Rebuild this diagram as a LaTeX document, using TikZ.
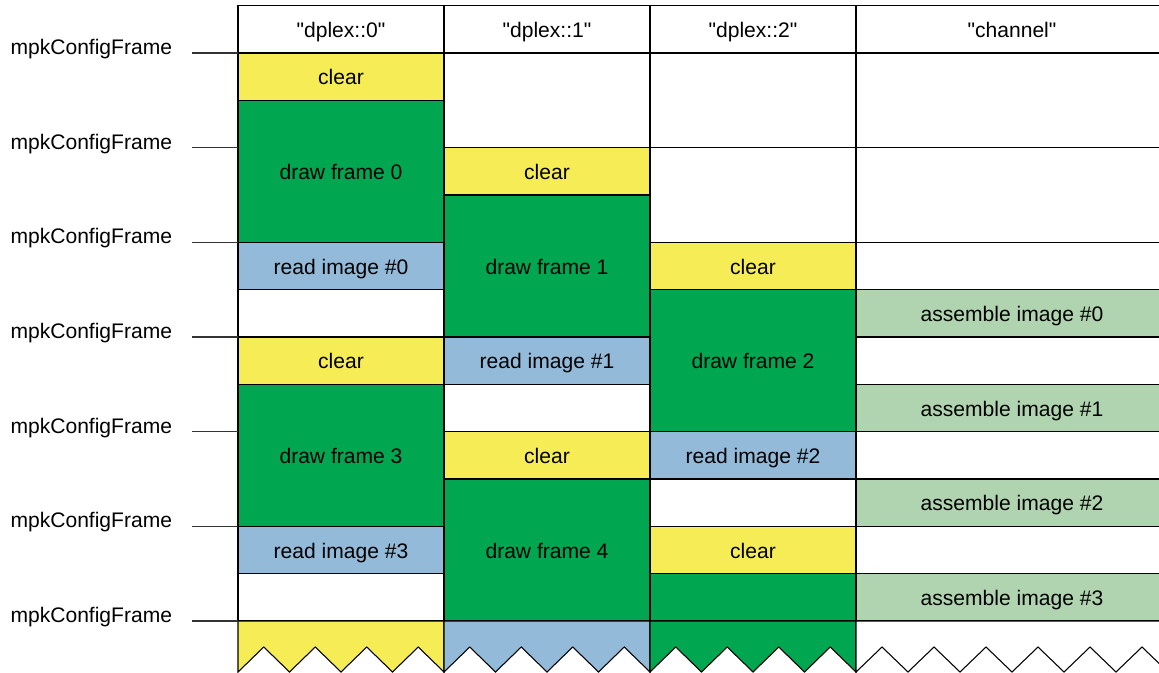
\documentclass[tikz,border=0pt]{standalone}
\usepackage{fontspec}
\setmainfont{Liberation Sans}
\usepackage{xcolor}
\definecolor{clearcol}{HTML}{F6EC55}
\definecolor{drawcol}{HTML}{00A650}
\definecolor{readcol}{HTML}{93BAD9}
\definecolor{asmcol}{HTML}{B0D4AF}
\usetikzlibrary{positioning}

\begin{document}
\begin{tikzpicture}[x=0.75pt,y=-0.75pt,node distance=0pt,line width=0.8pt,
	every node/.style={font=\fontsize{15.8}{19}\selectfont},
	cell/.style={draw,inner sep=0,outer sep=0,minimum width=154.5pt,minimum height=#1*35.5pt,
		text height=12pt,text depth=0pt},
	cell/.default=1,
	wide/.style={minimum width=234pt},
	idle/.style={cell=#1,fill=white},
	idle/.default=1,
	clr/.style={cell,fill=clearcol},
	drw/.style={cell=#1,fill=drawcol},
	drw/.default=3,
	rd/.style={cell,fill=readcol},
	asm/.style={cell,wide,fill=asmcol}]
	\clip (0,0) rectangle (1159,673);
	% headers
	\node[cell,anchor=north west] (h0) at (238,5.67) {\textquotedbl dplex::0\textquotedbl};
	\node[cell,right=of h0] (h1) {\textquotedbl dplex::1\textquotedbl};
	\node[cell,right=of h1] (h2) {\textquotedbl dplex::2\textquotedbl};
	\node[cell,wide,right=of h2] (h3) {\textquotedbl channel\textquotedbl};
	% dplex::0
	\node[clr,below=of h0] (c0a) {clear};
	\node[drw,below=of c0a] (c0b) {draw frame 0};
	\node[rd,below=of c0b] (c0c) {read image \#0};
	\node[idle,below=of c0c] (c0d) {};
	\node[clr,below=of c0d] (c0e) {clear};
	\node[drw,below=of c0e] (c0f) {draw frame 3};
	\node[rd,below=of c0f] (c0g) {read image \#3};
	\node[idle,below=of c0g] (c0h) {};
	% dplex::1
	\node[idle=2,below=of h1] (c1a) {};
	\node[clr,below=of c1a] (c1b) {clear};
	\node[drw,below=of c1b] (c1c) {draw frame 1};
	\node[rd,below=of c1c] (c1d) {read image \#1};
	\node[idle,below=of c1d] (c1e) {};
	\node[clr,below=of c1e] (c1f) {clear};
	\node[drw,below=of c1f] (c1g) {draw frame 4};
	% dplex::2
	\node[idle=2,below=of h2] (c2a) {};
	\node[idle=2,below=of c2a] (c2b) {};
	\node[clr,below=of c2b] (c2c) {clear};
	\node[drw,below=of c2c] (c2d) {draw frame 2};
	\node[rd,below=of c2d] (c2e) {read image \#2};
	\node[idle,below=of c2e] (c2f) {};
	\node[clr,below=of c2f] (c2g) {clear};
	\node[drw=1,below=of c2g] (c2h) {};
	% channel
	\node[idle=2,wide,below=of h3] (c3a) {};
	\node[idle=2,wide,below=of c3a] (c3b) {};
	\node[idle,wide,below=of c3b] (c3c) {};
	\node[asm,below=of c3c] (c3d) {assemble image \#0};
	\node[idle,wide,below=of c3d] (c3e) {};
	\node[asm,below=of c3e] (c3f) {assemble image \#1};
	\node[idle,wide,below=of c3f] (c3g) {};
	\node[asm,below=of c3g] (c3h) {assemble image \#2};
	\node[idle,wide,below=of c3h] (c3i) {};
	\node[asm,below=of c3i] (c3j) {assemble image \#3};
	% torn off bottom
	\foreach \c/\col/\n/\h in {c0h/clearcol/4/25.75,c1g/readcol/4/25.75,c2h/drawcol/4/25.75,c3j/white/6/26}
		\filldraw[fill=\col] (\c.south west) -- ++(0,51)
			\foreach \k in {1,...,\n} { -- ++(\h,-25) -- ++(\h,25) }
			-- (\c.south east) -- cycle;
	% frame marks
	\foreach \k in {0,...,6} {
		\node[anchor=base west,inner sep=0] (f\k) at (10,54.5+\k*94.67) {mpkConfigFrame};
		\draw[black!80] (192,53+\k*94.67) -- (238,53+\k*94.67);
	}
\end{tikzpicture}
\end{document}
